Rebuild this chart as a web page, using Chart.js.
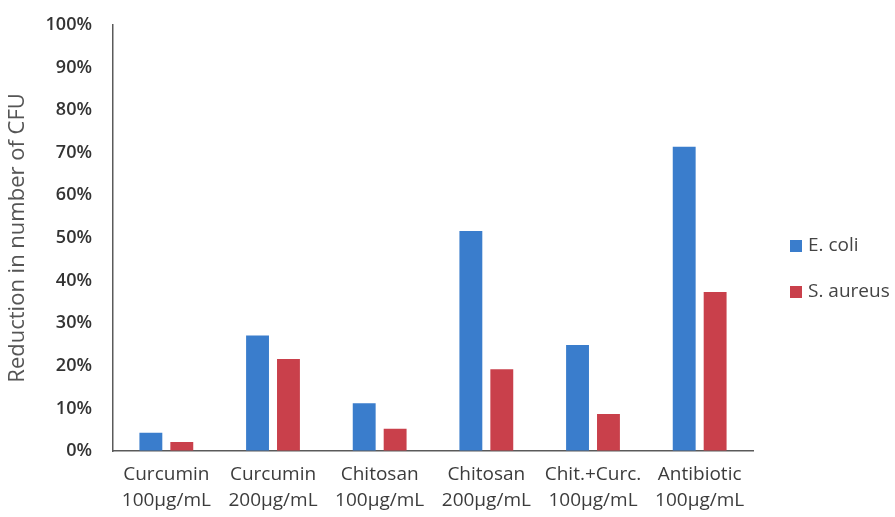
<!doctype html>
<html lang="en">
<head>
    <meta charset="utf-8">
    <script src="https://cdn.jsdelivr.net/npm/chart.js/dist/chart.umd.min.js"></script>
    <style>
        * { margin: 0; padding: 0; }
        body { background: #fff; }
        .chartBox { width: 895px; height: 517px; }
    </style>
</head>
<body>
    <div class="chartBox">
        <canvas id="cfuChart"></canvas>
    </div>
    <script>
    // treatments (two-line labels)
    var treatments = [
        ['Curcumin', '100µg/mL'],
        ['Curcumin', '200µg/mL'],
        ['Chitosan', '100µg/mL'],
        ['Chitosan', '200µg/mL'],
        ['Chit.+Curc.', '100µg/mL'],
        ['Antibiotic', '100µg/mL']
    ];
    // % reduction in CFU
    var ecoli = [4.3, 27.1, 11.2, 51.6, 24.9, 71.4];
    var saureus = [2.1, 21.6, 5.2, 19.2, 8.7, 37.3];

    var fontFam = "'Open Sans', sans-serif";

    // simple legend on the right, drawn next to the plot area
    var sideLegend = {
        id: 'sideLegend',
        afterDraw: function (chart) {
            var c = chart.ctx;
            var area = chart.chartArea;
            var x = area.right + 37;
            var y = 246;
            c.save();
            c.font = '19px ' + fontFam;
            c.textBaseline = 'middle';
            chart.data.datasets.forEach(function (ds, i) {
                var cy = y + i * 46;
                c.fillStyle = ds.backgroundColor;
                c.fillRect(x, cy - 6, 12, 12);
                c.fillStyle = '#444';
                c.fillText(ds.label, x + 18, cy);
            });
            c.restore();
        }
    };

    var ctx = document.getElementById('cfuChart');
    var cfuChart = new Chart(ctx, {
        type: 'bar',
        data: {
            labels: treatments,
            datasets: [{
                label: 'E. coli',
                data: ecoli,
                backgroundColor: '#3a7dcc'
            }, {
                label: 'S. aureus',
                data: saureus,
                backgroundColor: '#c9404b'
            }]
        },
        options: {
            responsive: true,
            maintainAspectRatio: false,
            animation: false,
            categoryPercentage: 0.58,
            barPercentage: 0.74,
            layout: { padding: { top: 10, left: 0, right: 142, bottom: 0 } },
            scales: {
                x: {
                    grid: { display: false },
                    border: { display: true, color: '#5a5a5a', width: 1.5 },
                    ticks: {
                        color: '#3c3c3c',
                        padding: 3,
                        font: { family: fontFam, size: 19, lineHeight: 1.37 },
                        maxRotation: 0
                    },
                    afterFit: function (s) { s.height = 66; }
                },
                y: {
                    min: 0,
                    max: 100,
                    // invisible tick marks just to push the labels left
                    grid: {
                        display: true,
                        drawOnChartArea: false,
                        drawTicks: true,
                        tickLength: 7,
                        color: 'rgba(0,0,0,0)'
                    },
                    border: { display: true, color: '#5a5a5a', width: 1.5 },
                    ticks: {
                        stepSize: 10,
                        color: '#333',
                        padding: 14,
                        font: { family: fontFam, size: 18, weight: 600 },
                        callback: function (v) { return v + '%'; }
                    },
                    title: {
                        display: true,
                        text: 'Reduction in number of CFU',
                        color: '#555',
                        font: { family: fontFam, size: 22 },
                        padding: { top: 5, bottom: 0 }
                    },
                    afterFit: function (s) { s.width = 113; }
                }
            },
            plugins: {
                legend: { display: false },
                tooltip: { enabled: false }
            }
        },
        plugins: [sideLegend]
    });
    </script>
</body>
</html>
